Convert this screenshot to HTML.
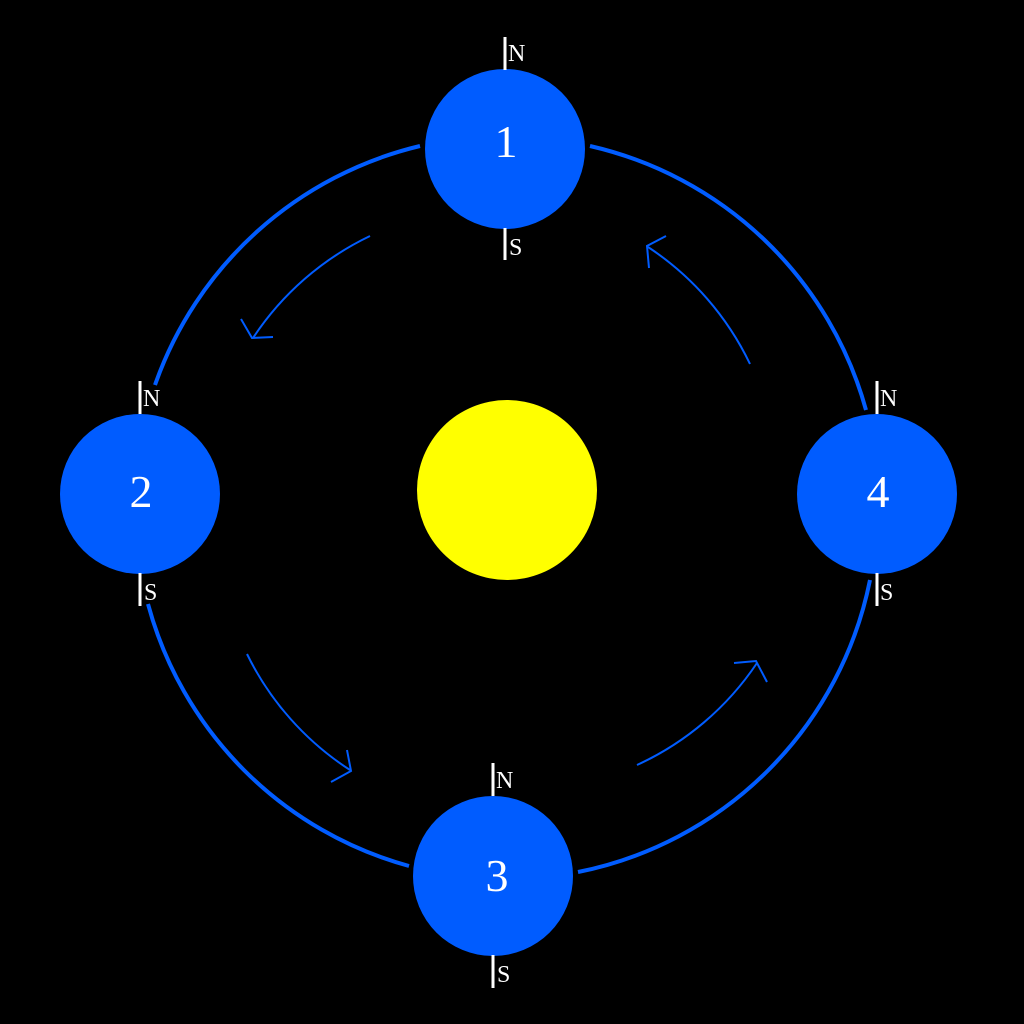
<!DOCTYPE html>
<html><head><style>html,body{margin:0;padding:0;background:#000}svg{display:block}</style></head>
<body>
<svg width="1024" height="1024" viewBox="0 0 1024 1024" xmlns="http://www.w3.org/2000/svg">
<rect width="1024" height="1024" fill="#000"/>
<g fill="none" stroke="#005cff" stroke-width="4">
<path d="M420,146 A372,372 0 0 0 155,385"/>
<path d="M590,146 A372,372 0 0 1 866,410"/>
<path d="M148,604 A372,372 0 0 0 409,866"/>
<path d="M578,872 A372,372 0 0 0 870,580"/>
</g>
<g fill="none" stroke="#005cff" stroke-width="2">
<path d="M370,236 A290,290 0 0 0 253,338"/>
<path d="M241,319 L252,338 L273,337"/>
<path d="M247,654 A290,290 0 0 0 350,770"/>
<path d="M347,750 L351,771 L331,782"/>
<path d="M637,765 A290,290 0 0 0 757,663"/>
<path d="M734,663 L756,661 L767,682"/>
<path d="M750,364 A290,290 0 0 0 648,247"/>
<path d="M666,236 L647,246 L649,268"/>
</g>
<circle cx="507" cy="490" r="90" fill="#ffff00"/>
<g fill="#005cff">
<circle cx="505" cy="149" r="80"/>
<circle cx="140" cy="494" r="80"/>
<circle cx="877" cy="494" r="80"/>
<circle cx="493" cy="876" r="80"/>
</g>
<g stroke="#fff" stroke-width="3">
<line x1="505" y1="37" x2="505" y2="70"/><line x1="505" y1="228" x2="505" y2="260"/>
<line x1="140" y1="381" x2="140" y2="414"/><line x1="140" y1="573" x2="140" y2="606"/>
<line x1="877" y1="381" x2="877" y2="414"/><line x1="877" y1="573" x2="877" y2="606"/>
<line x1="493" y1="763" x2="493" y2="796"/><line x1="493" y1="955" x2="493" y2="988"/>
</g>
<g fill="#fff" font-family="Liberation Serif, serif" font-size="24">
<text x="508" y="61">N</text><text x="509" y="255">S</text>
<text x="143" y="406">N</text><text x="144" y="600">S</text>
<text x="880" y="406">N</text><text x="880" y="600">S</text>
<text x="496" y="788">N</text><text x="497" y="982">S</text>
</g>
<g fill="#fff" font-family="Liberation Serif, serif" font-size="46" text-anchor="middle">
<text x="506" y="157">1</text>
<text x="141" y="507">2</text>
<text x="878" y="507">4</text>
<text x="497" y="891">3</text>
</g>
</svg>
</body></html>
